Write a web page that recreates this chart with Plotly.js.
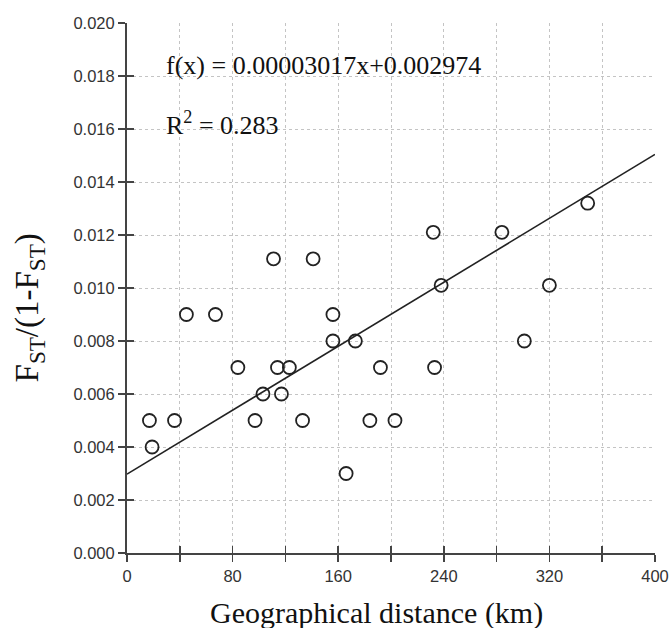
<!DOCTYPE html>
<html>
<head>
<meta charset="utf-8">
<script src="https://cdn.plot.ly/plotly-3.0.1.min.js"></script>
<style>html,body{margin:0;padding:0;background:#fff;}#chart{width:671px;height:628px;}</style>
</head>
<body>
<div id="chart"></div>
<script>
// Geographical distance (km)
const distanceKm = [17, 19, 36, 45, 67, 84, 97, 103, 111, 114, 117, 123, 133, 141, 156, 156, 166, 173, 184, 192, 203, 232, 233, 238, 284, 301, 320, 349];
// FST/(1-FST)
const fstRatio = [0.005, 0.004, 0.005, 0.009, 0.009, 0.007, 0.005, 0.006, 0.0111, 0.007, 0.006, 0.007, 0.005, 0.0111, 0.009, 0.008, 0.003, 0.008, 0.005, 0.007, 0.005, 0.0121, 0.007, 0.0101, 0.0121, 0.008, 0.0101, 0.0132];
// Fitted regression f(x) = slope*x + intercept
const slope = 0.00003017;
const intercept = 0.002974;
const fitX = [0, 400];
const fitY = fitX.map(x => slope * x + intercept);

const xLabelVals = [0, 80, 160, 240, 320, 400];
const xLabelText = ['0', '80', '160', '240', '320', '400'];
const xAllTickVals = [0, 40, 80, 120, 160, 200, 240, 280, 320, 360, 400];
const yTickVals = [0, 0.002, 0.004, 0.006, 0.008, 0.010, 0.012, 0.014, 0.016, 0.018, 0.020];
const yTickText = ['0.000', '0.002', '0.004', '0.006', '0.008', '0.010', '0.012', '0.014', '0.016', '0.018', '0.020'];
const xTitle = 'Geographical distance (km)';
const yTitle = 'F<sub>ST</sub>/(1-F<sub>ST</sub>)';

const traces = [
  {
    x: fitX, y: fitY, type: 'scatter', mode: 'lines',
    line: {color: '#222', width: 1.6}, hoverinfo: 'skip', showlegend: false
  },
  {
    x: distanceKm, y: fstRatio, type: 'scatter', mode: 'markers',
    marker: {symbol: 'circle-open', size: 13, color: '#222', line: {width: 1.8, color: '#222'}},
    showlegend: false
  },
  {
    x: fitX, y: fitY, type: 'scatter', mode: 'none', xaxis: 'x2', yaxis: 'y2',
    hoverinfo: 'skip', showlegend: false
  }
];

const tickFont = {family: 'Liberation Sans, Arial, sans-serif', size: 16.5, color: '#333'};
const serif = 'Liberation Serif, Times New Roman, serif';
const gridStyle = {showgrid: true, gridcolor: '#c4c4c4', griddash: 'dot', gridwidth: 1};

const layout = {
  width: 671, height: 628,
  margin: {l: 127, r: 16, t: 23, b: 75},
  paper_bgcolor: '#fff', plot_bgcolor: '#fff',
  showlegend: false,
  xaxis: Object.assign({
    range: [0, 400], tickmode: 'array', tickvals: xLabelVals, ticktext: xLabelText,
    ticks: 'outside', ticklen: 7, tickwidth: 1.5, tickcolor: '#444',
    minor: Object.assign({tickmode: 'linear', tick0: 0, dtick: 40, ticks: 'outside', ticklen: 7, tickwidth: 1.5, tickcolor: '#444'}, gridStyle),
    showline: true, linecolor: '#444', linewidth: 2,
    zeroline: false, tickfont: tickFont
  }, gridStyle),
  yaxis: Object.assign({
    range: [0, 0.020], tickmode: 'array', tickvals: yTickVals, ticktext: yTickText,
    ticks: 'outside', ticklen: 7, tickwidth: 1.5, tickcolor: '#444',
    showline: true, linecolor: '#444', linewidth: 2,
    zeroline: false, tickfont: tickFont
  }, gridStyle),
  xaxis2: {
    overlaying: 'x', anchor: 'y2', side: 'bottom', range: [0, 400],
    tickmode: 'array', tickvals: xAllTickVals, showticklabels: false,
    ticks: 'inside', ticklen: 7, tickwidth: 1.5, tickcolor: '#444',
    showline: false, showgrid: false, zeroline: false
  },
  yaxis2: {
    overlaying: 'y', anchor: 'x2', side: 'left', range: [0, 0.020],
    tickmode: 'array', tickvals: yTickVals, showticklabels: false,
    ticks: 'inside', ticklen: 7, tickwidth: 1.5, tickcolor: '#444',
    showline: false, showgrid: false, zeroline: false
  },
  annotations: [
    {
      x: 28, y: 0.0184, xref: 'x', yref: 'y', xanchor: 'left', yanchor: 'middle',
      text: 'f(x) = 0.00003017x+0.002974', showarrow: false,
      font: {family: serif, size: 26, color: '#111'}
    },
    {
      x: 28, y: 0.0162, xref: 'x', yref: 'y', xanchor: 'left', yanchor: 'middle',
      text: 'R<sup>2</sup> = 0.283', showarrow: false,
      font: {family: serif, size: 26, color: '#111'}
    },
    {
      x: 0.153, y: -0.114, xref: 'paper', yref: 'paper', xanchor: 'left', yanchor: 'middle',
      text: xTitle, showarrow: false,
      font: {family: serif, size: 30, color: '#111'}
    },
    {
      x: -0.185, y: 0.462, xref: 'paper', yref: 'paper', xanchor: 'center', yanchor: 'middle',
      text: yTitle, textangle: -90, showarrow: false,
      font: {family: serif, size: 33, color: '#111'}
    }
  ]
};

Plotly.newPlot('chart', traces, layout, {displayModeBar: false, staticPlot: true});
</script>
</body>
</html>
